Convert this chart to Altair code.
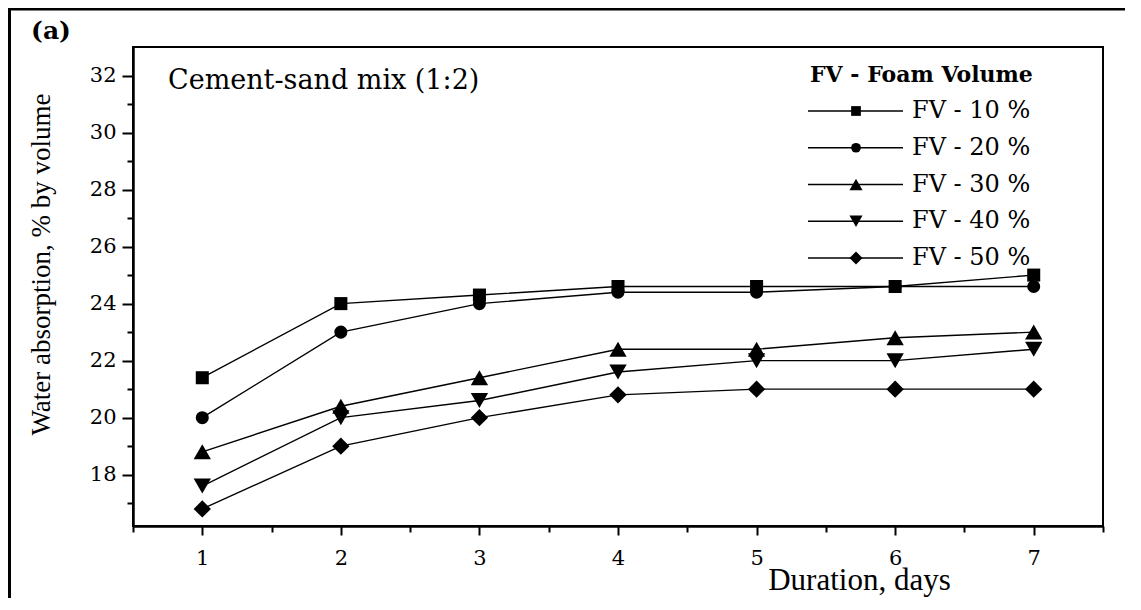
import altair as alt
import pandas as pd

# ---- data ----
days = [1, 2, 3, 4, 5, 6, 7]
series_names = ["FV - 10 %", "FV - 20 %", "FV - 30 %", "FV - 40 %", "FV - 50 %"]
fv10 = [21.4, 24.0, 24.3, 24.6, 24.6, 24.6, 25.0]
fv20 = [20.0, 23.0, 24.0, 24.4, 24.4, 24.6, 24.6]
fv30 = [18.8, 20.4, 21.4, 22.4, 22.4, 22.8, 23.0]
fv40 = [17.6, 20.0, 20.6, 21.6, 22.0, 22.0, 22.4]
fv50 = [16.8, 19.0, 20.0, 20.8, 21.0, 21.0, 21.0]
shapes = ["square", "circle", "triangle-up", "triangle-down", "diamond"]

x_major = [1, 2, 3, 4, 5, 6, 7]
x_minor = [0.5, 1.5, 2.5, 3.5, 4.5, 5.5, 6.5, 7.5]
y_major = [18, 20, 22, 24, 26, 28, 30, 32]
y_minor = [17, 19, 21, 23, 25, 27, 29, 31]

panel_label = "(a)"
inner_title = "Cement-sand mix (1:2)"
legend_title = "FV - Foam Volume"
x_title = "Duration, days"
y_title = "Water absorption, % by volume"

rows = []
for name, vals in zip(series_names, [fv10, fv20, fv30, fv40, fv50]):
    for d, v in zip(days, vals):
        rows.append({"series": name, "day": d, "value": v})
df = pd.DataFrame(rows)
leg = pd.DataFrame({"series": series_names, "row": list(range(len(series_names)))})
one = pd.DataFrame({"k": [0]})

SERIF_WIDE = "DejaVu Serif"
SERIF = "Liberation Serif"

xs = alt.Scale(domain=[0.5, 7.5], nice=False, zero=False)
ys = alt.Scale(domain=[16.2, 33], nice=False, zero=False)
shape_scale = alt.Scale(domain=series_names, range=shapes)
small_group = series_names[:2]   # square, circle
big_group = series_names[2:]     # triangles, diamond

# major axes (with labels and titles)
lines = alt.Chart(df).mark_line(color="black", strokeWidth=1.4).encode(
    x=alt.X("day:Q", scale=xs, axis=alt.Axis(
        orient="bottom", values=x_major, format="d", title=x_title, grid=False,
        tickSize=9, labelPadding=12, labelFont=SERIF_WIDE, labelFontSize=21,
        titleFont=SERIF, titleFontSize=31, titleFontWeight="normal",
        titleX=726, titleY=54, titleAlign="center", titleBaseline="middle")),
    y=alt.Y("value:Q", scale=ys, axis=alt.Axis(
        orient="left", values=y_major, format="d", title=y_title, grid=False,
        tickSize=11, labelPadding=6, labelFont=SERIF_WIDE, labelFontSize=21,
        titleFont=SERIF, titleFontSize=27, titleFontWeight="normal",
        titleX=-92, titleY=217, titleAlign="center", titleBaseline="middle",
        titleAngle=270)),
    detail="series:N")

# points (square/circle) + minor ticks
points_a = alt.Chart(df).transform_filter(
    alt.FieldOneOfPredicate(field="series", oneOf=small_group)
).mark_point(filled=True, color="black", opacity=1, size=170).encode(
    x=alt.X("day:Q", scale=xs, axis=alt.Axis(
        orient="bottom", values=x_minor, labels=False, title=None, grid=False,
        domain=False, tickSize=6)),
    y=alt.Y("value:Q", scale=ys, axis=alt.Axis(
        orient="left", values=y_minor, labels=False, title=None, grid=False,
        domain=False, tickSize=6)),
    shape=alt.Shape("series:N", scale=shape_scale, legend=None))
# points (triangles/diamond), drawn larger
points_b = alt.Chart(df).transform_filter(
    alt.FieldOneOfPredicate(field="series", oneOf=big_group)
).mark_point(filled=True, color="black", opacity=1, size=300).encode(
    x=alt.X("day:Q", scale=xs, axis=None),
    y=alt.Y("value:Q", scale=ys, axis=None),
    shape=alt.Shape("series:N", scale=shape_scale, legend=None))

# legend drawn as marks (pixel rows)
leg_base = alt.Chart(leg).transform_calculate(py="64 + datum.row * 36.75")
row_y = alt.Y("py:Q", scale=None, axis=None)
leg_lines = leg_base.mark_rule(color="black", strokeWidth=1.4).encode(
    x=alt.value(675), x2=alt.value(770), y=row_y)
leg_pts_a = leg_base.transform_filter(
    alt.FieldOneOfPredicate(field="series", oneOf=small_group)
).mark_point(filled=True, color="black", opacity=1, size=95).encode(
    x=alt.value(723), y=row_y,
    shape=alt.Shape("series:N", scale=shape_scale, legend=None))
leg_pts_b = leg_base.transform_filter(
    alt.FieldOneOfPredicate(field="series", oneOf=big_group)
).mark_point(filled=True, color="black", opacity=1, size=170).encode(
    x=alt.value(723), y=row_y,
    shape=alt.Shape("series:N", scale=shape_scale, legend=None))
leg_txt = leg_base.mark_text(align="left", baseline="middle", font=SERIF_WIDE,
                             fontSize=24, color="black").encode(
    x=alt.value(779), y=row_y, text="series:N")

head = alt.Chart(one).mark_text(align="left", baseline="middle", font=SERIF_WIDE,
                                fontSize=22, fontWeight="bold", color="black",
                                text=legend_title).encode(
    x=alt.value(677), y=alt.value(28))
ttl = alt.Chart(one).mark_text(align="left", baseline="middle", font=SERIF_WIDE,
                               fontSize=27, color="black", text=inner_title).encode(
    x=alt.value(35), y=alt.value(34))
plab = alt.Chart(one).mark_text(align="center", baseline="middle", font=SERIF_WIDE,
                                fontSize=25, fontWeight="bold", color="black",
                                text=panel_label).encode(
    x=alt.value(-82), y=alt.value(-16))
border_top = alt.Chart(one).mark_rule(color="black", strokeWidth=3).encode(
    x=alt.value(-125), x2=alt.value(1000), y=alt.value(-38))
border_left = alt.Chart(one).mark_rule(color="black", strokeWidth=3).encode(
    x=alt.value(-123.5), y=alt.value(-39), y2=alt.value(560))

chart = alt.layer(
    lines, points_a, points_b, leg_lines, leg_pts_a, leg_pts_b, leg_txt,
    head, ttl, plab, border_top, border_left
).resolve_axis(
    x="independent", y="independent"
).properties(
    width=970, height=479,
    autosize=alt.AutoSizeParams(type="none"),
    padding={"left": 125, "top": 39, "right": 22, "bottom": 72},
    background="white",
).configure_view(
    stroke="black", strokeWidth=2
).configure_axis(
    domainColor="black", domainWidth=2.5, tickColor="black", tickWidth=2,
    labelColor="black", titleColor="black",
)

chart.save("out.html", embed_options={"renderer": "svg", "actions": False})
